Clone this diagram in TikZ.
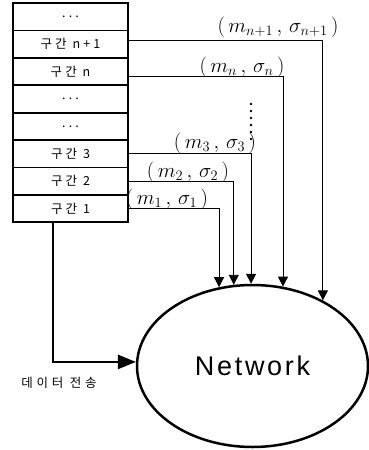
\documentclass[tikz,border=0pt]{standalone}
\usepackage{fontspec}
\usetikzlibrary{arrows.meta,shapes.geometric,calc}
\newfontfamily\kr[LetterSpace=25]{Noto Sans CJK KR}
\newfontfamily\krd[LetterSpace=30]{Noto Sans CJK KR}
\newfontfamily\netfont[LetterSpace=10]{Liberation Sans}
\newcommand{\msig}[1]{$(\,m_{#1}\,,\,\sigma_{#1}\,)$}
\begin{document}
\begin{tikzpicture}[x=1pt,y=-1pt,
  rowbox/.style={draw,line width=1.8pt,minimum width=115pt,minimum height=27.4pt,inner sep=0pt,font=\kr\fontsize{12.5}{12.5}\selectfont},
  feed/.style={line width=0.9pt,-{Triangle[length=10pt,width=10pt]}},
  lab/.style={inner sep=0pt,font=\fontsize{19.5}{19.5}\selectfont},
  dot/.style={fill,circle,inner sep=0pt,minimum size=2.8pt}]
\useasboundingbox (0,0) rectangle (369,450);
\foreach \n/\t [count=\i] in {r1/{...},r2/{구간 n+1},r3/{구간 n},r4/{...},r5/{...},r6/{구간 3},r7/{구간 2},r8/{구간 1}}
  \node[rowbox] (\n) at (70.5,{3+27.4*(\i-0.5)}) {\t};
\node[draw,ellipse,line width=2.5pt,minimum width=231pt,minimum height=162pt,inner sep=0pt,font=\netfont\fontsize{27}{27}\selectfont] (net) at (252.5,366) {Network};
\draw[feed] ([yshift=4pt]r2.east) -| (net.43);
\draw[feed] ([yshift=-4.6pt]r3.east) -| (net.69.4);
\draw[feed] (r6.east) -| (net.91.8);
\draw[feed] (r7.east) -| (net.103);
\draw[feed] (r8.east) -| (net.113.4);
\draw[line width=2.5pt,-{Triangle[length=18pt,width=14pt]}] ([xshift=-17.5pt]r8.south) |- (net.178);
\node[lab] (l5) at (278,27) {\msig{n+1}};
\node[lab] (l4) at (242,67) {\msig{n}};
\node[lab] (l3) at (215,143) {\msig{3}};
\node[lab] (l2) at (188,172) {\msig{2}};
\node[lab] (l1) at (167,199) {\msig{1}};
\foreach \y [count=\k] in {104,111,118,125,132,139} \node[dot] (d\k) at (251,\y) {};
\node[font=\krd\fontsize{12.5}{12.5}\selectfont,inner sep=0pt] (data) at (59,383) {데이터 전송};
\end{tikzpicture}
\end{document}
